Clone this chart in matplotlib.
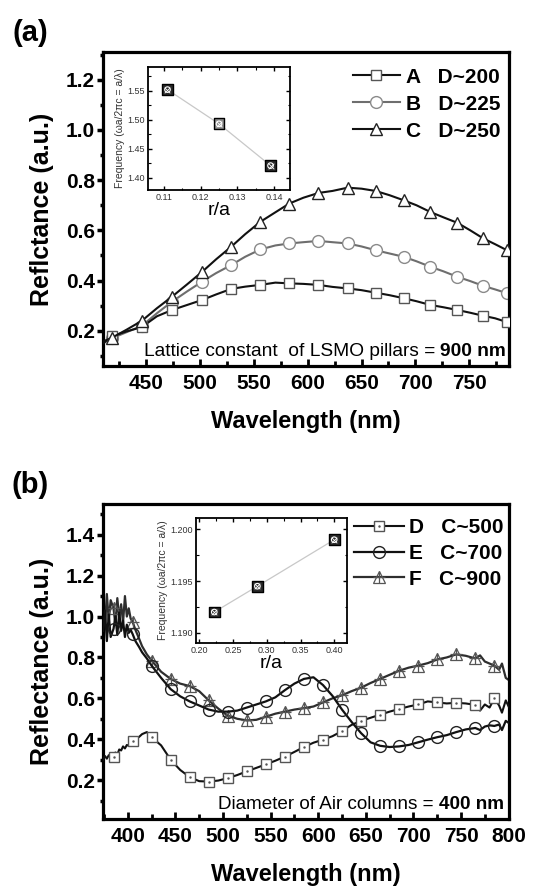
import numpy as np
import matplotlib
matplotlib.use('Agg')
import matplotlib.pyplot as plt
from matplotlib.ticker import MultipleLocator
from matplotlib.legend_handler import HandlerTuple

plt.rcParams['font.family'] = ['Liberation Sans', 'DejaVu Sans']

# ---- panel (a): LSMO pillars, lattice constant 900 nm ----
wl_a = [410, 418, 432, 446, 460, 474, 488, 502, 515, 529, 542, 556, 570, 583, 596,
        610, 623, 637, 650, 663, 676, 689, 701, 714, 726, 739, 751, 763, 774, 785, 790]
refl_A = [0.150, 0.178, 0.198, 0.215, 0.258, 0.283, 0.303, 0.323, 0.345, 0.367, 0.376,
          0.383, 0.392, 0.389, 0.387, 0.383, 0.375, 0.369, 0.362, 0.352, 0.342, 0.330,
          0.318, 0.303, 0.294, 0.283, 0.272, 0.260, 0.250, 0.235, 0.225]
refl_B = [0.150, 0.170, 0.195, 0.220, 0.270, 0.316, 0.357, 0.396, 0.430, 0.462, 0.495,
          0.524, 0.540, 0.548, 0.553, 0.558, 0.553, 0.548, 0.536, 0.521, 0.508, 0.495,
          0.477, 0.455, 0.437, 0.415, 0.398, 0.379, 0.365, 0.350, 0.335]
refl_C = [0.158, 0.172, 0.205, 0.240, 0.290, 0.336, 0.385, 0.435, 0.485, 0.535, 0.585,
          0.634, 0.672, 0.707, 0.730, 0.749, 0.757, 0.770, 0.766, 0.757, 0.740, 0.720,
          0.700, 0.673, 0.652, 0.630, 0.600, 0.568, 0.545, 0.521, 0.510]
labels_a = ['A   D~200', 'B   D~225', 'C   D~250']

inset_ra_a = [0.111, 0.125, 0.139]
inset_freq_a = [1.552, 1.493, 1.421]

# ---- panel (b): air columns, diameter 400 nm ----
wl_b = [374, 376, 378, 380, 382, 385, 387, 389, 391, 393, 395, 397, 399, 401, 403, 405,
        408, 412, 415, 420, 425, 435, 445, 455, 465, 475, 485, 495, 505, 515, 525, 535,
        545, 555, 565, 575, 585, 595, 605, 615, 625, 635, 645, 655, 665, 675, 685, 695,
        705, 715, 725, 735, 745, 755, 765, 770, 775, 780, 785, 790, 793, 797, 800]
refl_D = [0.300, 0.318, 0.305, 0.322, 0.310, 0.314, 0.335, 0.325, 0.350, 0.345, 0.365,
          0.355, 0.372, 0.368, 0.385, 0.390, 0.398, 0.412, 0.425, 0.435, 0.410, 0.370,
          0.300, 0.250, 0.215, 0.195, 0.193, 0.198, 0.210, 0.225, 0.243, 0.260, 0.277,
          0.295, 0.315, 0.338, 0.362, 0.383, 0.398, 0.415, 0.440, 0.470, 0.490, 0.505,
          0.520, 0.535, 0.548, 0.560, 0.570, 0.585, 0.580, 0.575, 0.578, 0.575, 0.568,
          0.540, 0.570, 0.555, 0.600, 0.565, 0.530, 0.590, 0.560]
refl_E = [0.930, 1.030, 0.880, 1.010, 0.900, 0.940, 1.000, 0.910, 1.020, 0.930, 0.980,
          0.900, 0.960, 0.920, 0.935, 0.915, 0.880, 0.850, 0.825, 0.795, 0.760, 0.700,
          0.645, 0.610, 0.585, 0.565, 0.545, 0.535, 0.535, 0.540, 0.555, 0.570, 0.585,
          0.605, 0.640, 0.672, 0.695, 0.703, 0.665, 0.612, 0.545, 0.485, 0.430, 0.385,
          0.368, 0.362, 0.365, 0.372, 0.385, 0.398, 0.410, 0.420, 0.435, 0.448, 0.455,
          0.445, 0.462, 0.468, 0.465, 0.472, 0.445, 0.490, 0.480]
refl_F = [1.060, 0.950, 1.110, 0.980, 1.080, 1.040, 0.960, 1.090, 0.990, 1.060, 0.970,
          1.100, 1.000, 1.040, 0.990, 0.975, 0.935, 0.890, 0.855, 0.815, 0.785, 0.730,
          0.695, 0.672, 0.660, 0.635, 0.590, 0.550, 0.515, 0.500, 0.492, 0.495, 0.510,
          0.525, 0.535, 0.545, 0.552, 0.560, 0.580, 0.600, 0.615, 0.635, 0.652, 0.675,
          0.695, 0.715, 0.735, 0.750, 0.760, 0.772, 0.790, 0.800, 0.815, 0.808, 0.795,
          0.810, 0.780, 0.770, 0.760, 0.740, 0.770, 0.700, 0.690]
marker_wl_b = [385, 405] + list(range(425, 786, 20))
labels_b = ['D   C~500', 'E   C~700', 'F   C~900']

inset_ra_b = [0.222, 0.286, 0.400]
inset_freq_b = [1.192, 1.1945, 1.199]

fig = plt.figure(figsize=(5.57, 8.91), dpi=100)


def style_main(ax, xlim, ylim, xmaj, ylabel):
    ax.set_xlim(*xlim)
    ax.set_ylim(*ylim)
    ax.xaxis.set_major_locator(MultipleLocator(xmaj))
    ax.xaxis.set_minor_locator(MultipleLocator(25))
    ax.yaxis.set_major_locator(MultipleLocator(0.2))
    ax.yaxis.set_minor_locator(MultipleLocator(0.1))
    for s in ax.spines.values():
        s.set_linewidth(2.3)
    ax.tick_params(axis='x', which='major', direction='in', length=5, width=2,
                   labelsize=15, pad=6)
    ax.tick_params(axis='x', which='minor', direction='in', length=3.5, width=2)
    ax.tick_params(axis='y', which='major', direction='out', length=4.5, width=2.5,
                   labelsize=15, pad=1.5)
    ax.tick_params(axis='y', which='minor', direction='out', length=2.5, width=2.5)
    for t in ax.get_xticklabels() + ax.get_yticklabels():
        t.set_fontweight('bold')
    ax.set_xlabel('Wavelength (nm)', fontsize=17, fontweight='bold', labelpad=12)
    ax.set_ylabel(ylabel, fontsize=18, fontweight='bold', labelpad=8)


def style_inset(ax, xlim, ylim, xmaj, xmin, ymaj, ymin, yfmt):
    ax.set_xlim(*xlim)
    ax.set_ylim(*ylim)
    ax.xaxis.set_major_locator(MultipleLocator(xmaj))
    ax.xaxis.set_minor_locator(MultipleLocator(xmin))
    ax.yaxis.set_major_locator(MultipleLocator(ymaj))
    ax.yaxis.set_minor_locator(MultipleLocator(ymin))
    ax.yaxis.set_major_formatter(yfmt)
    for s in ax.spines.values():
        s.set_linewidth(1.3)
    ax.tick_params(which='both', direction='in', top=True, right=True,
                   labelsize=6.5, labelcolor='#333333', pad=2)
    ax.tick_params(which='major', length=3, width=1)
    ax.tick_params(which='minor', length=1.8, width=0.8)
    ax.set_xlabel('r/a', fontsize=14, labelpad=0)
    ax.set_ylabel('Frequency (ωa/2πc = a/λ)', fontsize=7.5, color='#333333', labelpad=2)


def inset_points(ax, x, y, faces):
    ax.plot(x, y, color='#c8c8c8', lw=0.9, zorder=1)
    ax.scatter(x, y, s=60, marker='s', c=faces, edgecolors='black', linewidths=1.0, zorder=2)
    ax.scatter(x, y, s=16, marker='o', facecolors='none', edgecolors='white',
               linewidths=0.8, zorder=3)
    ax.scatter(x, y, s=16, marker='x', c='white', linewidths=0.6, zorder=3)


# ================= panel (a) =================
ax1 = fig.add_axes([0.185, 0.5892, 0.729, 0.3524])
mk_a = slice(1, None, 2)
lA, = ax1.plot(wl_a, refl_A, color='#111111', lw=1.5, marker='s', ms=7,
               mfc='white', mec='#555555', mew=1.0, markevery=mk_a, zorder=3)
lB, = ax1.plot(wl_a, refl_B, color='#6e6e6e', lw=1.5, marker='o', ms=8.5,
               mfc='white', mec='#8a8a8a', mew=1.0, markevery=mk_a, zorder=2)
lC, = ax1.plot(wl_a, refl_C, color='#111111', lw=1.5, marker='^', ms=9,
               mfc='white', mec='#222222', mew=1.0, markevery=mk_a, zorder=4)
style_main(ax1, (410, 787), (0.06, 1.31), 50, 'Reflctance (a.u.)')
ax1.legend([lA, lB, lC], labels_a, loc='upper right', bbox_to_anchor=(0.978, 0.95),
           frameon=False, prop={'size': 15, 'weight': 'bold'}, handlelength=2.3,
           handletextpad=0.25, labelspacing=0.38, borderpad=0, borderaxespad=0)

tb = ax1.text(0.993, 0.018, '900 nm', transform=ax1.transAxes, ha='right', va='bottom',
              fontsize=13.8, fontweight='bold')
ax1.annotate('Lattice constant  of LSMO pillars = ', xy=(0, 0), xycoords=tb,
             ha='right', va='bottom', fontsize=13.8)

ins1 = fig.add_axes([0.2657, 0.7868, 0.255, 0.138])
inset_points(ins1, inset_ra_a, inset_freq_a, ['#2a2a2a', '#8c8c8c', '#2a2a2a'])
style_inset(ins1, (0.1057, 0.1443), (1.379, 1.591), 0.01, 0.005, 0.05, 0.025, '{x:.2f}')

fig.text(30 / 557, 1 - 33 / 891, '(a)', fontsize=21, fontweight='bold', ha='center', va='center')

# ================= panel (b) =================
ax2 = fig.add_axes([0.185, 0.0808, 0.729, 0.3535])
mk_b = [i for i, w in enumerate(wl_b) if w in marker_wl_b]
lD, = ax2.plot(wl_b, refl_D, color='#111111', lw=1.5, marker='s', ms=7,
               mfc='white', mec='#555555', mew=1.0, markevery=mk_b, zorder=3)
dD, = ax2.plot(wl_b, refl_D, ls='none', marker='.', ms=1.5, color='#555555',
               markevery=mk_b, zorder=4)
lE, = ax2.plot(wl_b, refl_E, color='#111111', lw=1.6, marker='o', ms=8.5,
               mfc='none', mec='#222222', mew=1.0, markevery=mk_b, zorder=3)
lF, = ax2.plot(wl_b, refl_F, color='#2e2e2e', lw=1.6, marker='^', ms=8.5,
               mfc='none', mec='#555555', mew=0.9, markevery=mk_b, zorder=2)
pF, = ax2.plot(wl_b, refl_F, ls='none', marker='+', ms=9, mec='#555555', mew=0.9,
               markevery=mk_b, zorder=2)
style_main(ax2, (374, 800.5), (0.01, 1.55), 50, 'Reflectance (a.u.)')
ax2.legend([(lD, dD), lE, (lF, pF)], labels_b, loc='upper right',
           bbox_to_anchor=(0.985, 0.955), frameon=False,
           prop={'size': 15, 'weight': 'bold'}, handlelength=2.4, handletextpad=0.2,
           labelspacing=0.32, borderpad=0, borderaxespad=0,
           handler_map={tuple: HandlerTuple(ndivide=1, pad=0)})

tb2 = ax2.text(0.988, 0.018, '400 nm', transform=ax2.transAxes, ha='right', va='bottom',
               fontsize=13.6, fontweight='bold')
ax2.annotate('Diameter of Air columns = ', xy=(0, 0), xycoords=tb2,
             ha='right', va='bottom', fontsize=13.6)

ins2 = fig.add_axes([0.352, 0.2783, 0.271, 0.1403])
inset_points(ins2, inset_ra_b, inset_freq_b, ['#2a2a2a', '#2a2a2a', '#2a2a2a'])
style_inset(ins2, (0.195, 0.419), (1.189, 1.2011), 0.05, 0.025, 0.005, 0.0025, '{x:.3f}')

fig.text(30 / 557, 1 - 485 / 891, '(b)', fontsize=21, fontweight='bold', ha='center', va='center')

fig.savefig('out.png', dpi=100)
